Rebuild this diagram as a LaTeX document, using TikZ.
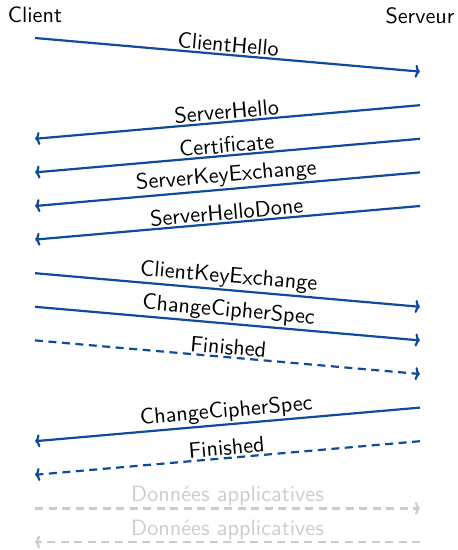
\documentclass[tikz,border=0pt]{standalone}
\usepackage{fontspec}
\setsansfont{lmsans10-regular.otf}
\usetikzlibrary{arrows.meta}
\definecolor{msgblue}{HTML}{0F4A9C}
\definecolor{appgray}{HTML}{CCCCCC}
\begin{document}
\begin{tikzpicture}[x=1bp,y=-1bp,
  font=\sffamily\fontsize{22.3}{26}\selectfont,
  msg/.style={draw=msgblue, line width=2.2bp, -{To[length=5bp,width=13bp,line width=2.2bp]}},
  msgdash/.style={msg, dash pattern=on 8bp off 5.5bp},
  appmsg/.style={draw=appgray, line width=2.2bp, dash pattern=on 8bp off 5.5bp,
                 -{To[length=5bp,width=13bp,line width=2.2bp]}},
  lbl/.style={midway, above, sloped, inner sep=1.5bp},
  applbl/.style={lbl, text=appgray}]
\useasboundingbox (0,0) rectangle (458,550);

% party names
\node (client) at (35,15) {Client};
\node (server) at (420,16) {Serveur};

% one row every 33.6 px, on both sides
\foreach \i in {1,...,16} {
  \coordinate (c\i) at (35,{38+(\i-1)*33.6});
  \coordinate (s\i) at (420,{38+(\i-1)*33.6});
}

% handshake
\draw[msg] (c1) -- node[lbl]{ClientHello} (s2);
\draw[msg] (s3) -- node[lbl]{ServerHello} (c4);
\draw[msg] (s4) -- node[lbl]{Certificate} (c5);
\draw[msg] (s5) -- node[lbl]{ServerKeyExchange} (c6);
\draw[msg] (s6) -- node[lbl]{ServerHelloDone} (c7);
\draw[msg] (c8) -- node[lbl]{ClientKeyExchange} (s9);
\draw[msg] (c9) -- node[lbl]{ChangeCipherSpec} (s10);
\draw[msgdash] (c10) -- node[lbl]{Finished} (s11);
\draw[msg] (s12) -- node[lbl]{ChangeCipherSpec} (c13);
\draw[msgdash] (s13) -- node[lbl]{Finished} (c14);

% application data
\draw[appmsg] (c15) -- node[applbl]{Données applicatives} (s15);
\draw[appmsg] (s16) -- node[applbl]{Données applicatives} (c16);
\end{tikzpicture}
\end{document}
